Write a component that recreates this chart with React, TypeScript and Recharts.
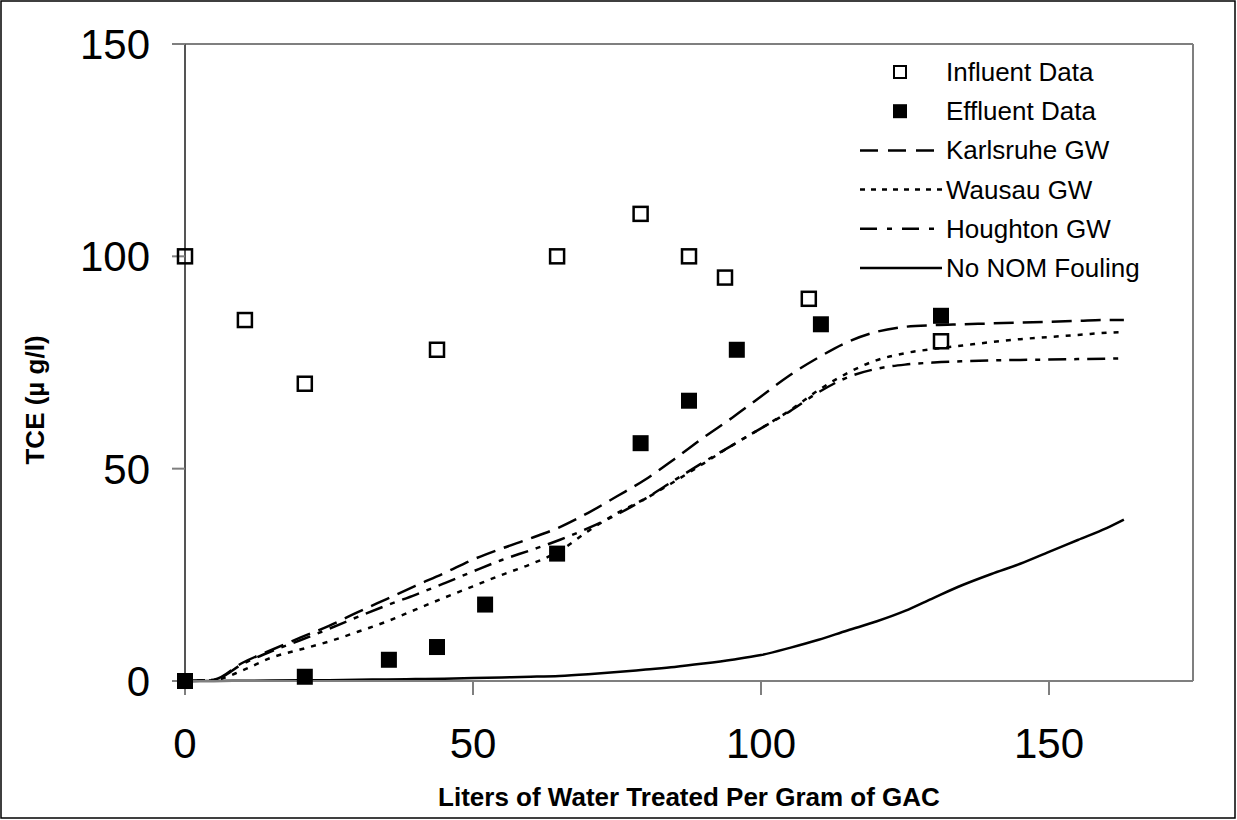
import React from 'react';
import { ComposedChart, Line, Scatter, XAxis, YAxis, ReferenceLine } from 'recharts';

// measured points
const influentX = [0, 10.4, 20.8, 43.75, 64.6, 79.1, 87.5, 93.75, 108.3, 131.25];
const influentY = [100, 85, 70, 78, 100, 110, 100, 95, 90, 80];

const effluentX = [0, 20.8, 35.4, 43.75, 52.1, 64.6, 79.1, 87.5, 95.8, 110.4, 131.25];
const effluentY = [0, 1, 5, 8, 18, 30, 56, 66, 78, 84, 86];

// model curves
const curveX = [
  0, 5, 10, 15, 20, 25, 30, 35, 40, 45, 50, 55, 60, 65, 70, 75, 80, 85, 90, 95, 100,
  105, 110, 115, 120, 125, 130, 135, 140, 145, 150, 155, 160, 163,
];
const karlsruhe = [
  0, 0.3, 4.3, 7.3, 10.2, 13, 16.2, 19.3, 22.4, 25.4, 28.6, 31.2, 33.6, 36.2, 39.6, 43.5, 47.5,
  52.3, 57.3, 62, 67, 72, 76.2, 79.8, 82.2, 83.4, 83.8, 84, 84.2, 84.4, 84.6, 84.8, 85, 85,
];
const wausau = [
  0, 0.2, 2.5, 5.5, 7.4, 9.3, 11.6, 14, 16.8, 19.6, 22.3, 25, 27.5, 30.6, 35.3, 39.5, 43, 47,
  51.2, 55.5, 59.5, 63.7, 68.5, 72.5, 75.5, 77.2, 78.2, 79, 79.8, 80.5, 81, 81.5, 82, 82.2,
];
const houghton = [
  0, 0.3, 4, 7, 9.6, 12.3, 15.1, 17.8, 20.3, 23, 25.8, 28.5, 30.8, 33.2, 36, 39.2, 43, 47.3,
  51.5, 55.5, 59.5, 63.5, 68, 71.5, 73.5, 74.5, 75, 75.3, 75.5, 75.6, 75.7, 75.8, 75.9, 76,
];
const noFouling = [
  0, 0, 0.05, 0.1, 0.15, 0.2, 0.3, 0.35, 0.45, 0.55, 0.7, 0.85, 1, 1.2, 1.6, 2.1, 2.7, 3.3,
  4.1, 5, 6.1, 7.8, 9.7, 11.9, 14, 16.5, 19.6, 22.6, 25.2, 27.6, 30.4, 33.2, 36, 38,
];

const xTicks = [0, 50, 100, 150];
const yTicks = [0, 50, 100, 150];

const toPoints = (xs: number[], ys: number[]) => xs.map((x, i) => ({ x, y: ys[i] }));

const FONT = '"Liberation Sans", Arial, sans-serif';
const AXIS = '#7f7f7f';

const OpenSquare = (props: any) => (
  <rect x={props.cx - 7} y={props.cy - 7} width={14} height={14} fill="none" stroke="#000" strokeWidth={2.5} />
);
const FilledSquare = (props: any) => (
  <rect x={props.cx - 8} y={props.cy - 8} width={16} height={16} fill="#000" />
);

const legendItems = [
  { name: 'Influent Data', kind: 'open' },
  { name: 'Effluent Data', kind: 'filled' },
  { name: 'Karlsruhe GW', kind: 'line', dash: '18 10' },
  { name: 'Wausau GW', kind: 'line', dash: '5 6' },
  { name: 'Houghton GW', kind: 'line', dash: '17 10 5 10' },
  { name: 'No NOM Fouling', kind: 'line', dash: undefined },
];

const App = () => {
  return (
    <div style={{ position: 'absolute', left: 0, top: 0, width: 1237, height: 820, background: '#fff' }}>
      <ComposedChart width={1237} height={820} margin={{ top: 44, right: 44, left: 0, bottom: 0 }}>
        <XAxis
          type="number"
          dataKey="x"
          domain={[0, 175]}
          ticks={xTicks}
          height={139}
          tickSize={14}
          tickMargin={33}
          axisLine={{ stroke: AXIS, strokeWidth: 2 }}
          tickLine={{ stroke: AXIS, strokeWidth: 2 }}
          tick={{ fontSize: 42, fill: '#000', fontFamily: FONT }}
          allowDuplicatedCategory={false}
        />
        <YAxis
          type="number"
          dataKey="y"
          domain={[0, 150]}
          ticks={yTicks}
          width={185}
          tickSize={13}
          tickMargin={22}
          axisLine={{ stroke: '#555', strokeWidth: 2 }}
          tickLine={{ stroke: AXIS, strokeWidth: 2 }}
          tick={{ fontSize: 42, fill: '#000', fontFamily: FONT }}
        />
        <ReferenceLine y={150} stroke={AXIS} strokeWidth={2} />
        <ReferenceLine x={175} stroke={AXIS} strokeWidth={2} />

        <Line data={toPoints(curveX, noFouling)} dataKey="y" type="monotone" stroke="#000" strokeWidth={2.5} dot={false} isAnimationActive={false} />
        <Line data={toPoints(curveX, houghton)} dataKey="y" type="monotone" stroke="#000" strokeWidth={2.5} strokeDasharray="18 8 5 8" dot={false} isAnimationActive={false} />
        <Line data={toPoints(curveX, wausau)} dataKey="y" type="monotone" stroke="#000" strokeWidth={2.5} strokeDasharray="5 7" dot={false} isAnimationActive={false} />
        <Line data={toPoints(curveX, karlsruhe)} dataKey="y" type="monotone" stroke="#000" strokeWidth={2.5} strokeDasharray="20 9" dot={false} isAnimationActive={false} />

        <Scatter data={toPoints(influentX, influentY)} dataKey="y" shape={OpenSquare} isAnimationActive={false} />
        <Scatter data={toPoints(effluentX, effluentY)} dataKey="y" shape={FilledSquare} isAnimationActive={false} />
      </ComposedChart>

      {/* legend, axis titles and outer frame */}
      <svg width={1237} height={820} style={{ position: 'absolute', left: 0, top: 0, pointerEvents: 'none' }}>
        <rect x={1} y={1} width={1234} height={817} fill="none" stroke="#000" strokeWidth={1.5} />
        {legendItems.map((item, i) => {
          const cy = 72 + i * 39.2;
          return (
            <g key={item.name}>
              {item.kind === 'open' && (
                <rect x={894} y={cy - 6} width={12} height={12} fill="none" stroke="#000" strokeWidth={2} />
              )}
              {item.kind === 'filled' && <rect x={893} y={cy - 7} width={14} height={14} fill="#000" />}
              {item.kind === 'line' && (
                <line x1={860} x2={942} y1={cy} y2={cy} stroke="#000" strokeWidth={2.5} strokeDasharray={item.dash} />
              )}
              <text x={946} y={cy} dominantBaseline="central" fontSize={26} fontFamily={FONT} fill="#000">
                {item.name}
              </text>
            </g>
          );
        })}
        <text x={689} y={806} textAnchor="middle" fontSize={26} fontWeight="bold" fontFamily={FONT} fill="#000">
          Liters of Water Treated Per Gram of GAC
        </text>
        <text
          transform="translate(44, 400) rotate(-90)"
          textAnchor="middle"
          fontSize={26}
          fontWeight="bold"
          fontFamily={FONT}
          fill="#000"
        >
          TCE (µ g/l)
        </text>
      </svg>
    </div>
  );
};

export default App;
